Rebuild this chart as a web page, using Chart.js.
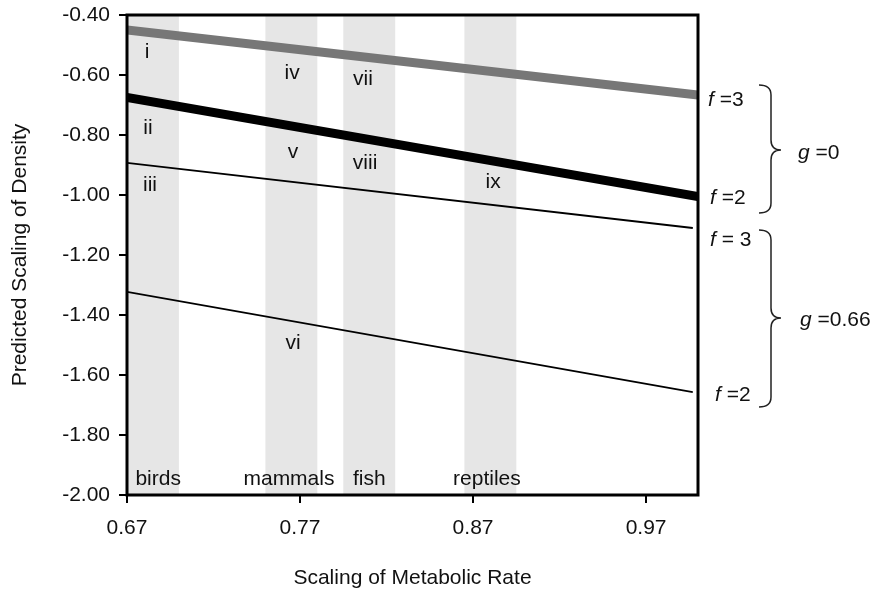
<!DOCTYPE html>
<html>
<head>
<meta charset="utf-8">
<script src="https://cdn.jsdelivr.net/npm/chart.js@4.4.0/dist/chart.umd.min.js"></script>
<style>
body{margin:0;background:#fff}
</style>
</head>
<body>
<canvas id="graph" width="876" height="594"></canvas>
<script>
const xTicks = [0.67, 0.77, 0.87, 0.97];
const yTicks = [-0.4, -0.6, -0.8, -1.0, -1.2, -1.4, -1.6, -1.8, -2.0];

// g = 0 lines
const xG0 = [0.67, 1.0];
const f3g0 = [-0.45, -0.667];
const f2g0 = [-0.675, -1.005];
// g = 0.66 lines
const xG066 = [0.67, 0.997];
const f3g066 = [-0.893, -1.11];
const f2g066 = [-1.323, -1.657];

// taxa bands
const groups = ['birds', 'mammals', 'fish', 'reptiles'];
const groupFrom = [0.67, 0.75, 0.795, 0.865];
const groupTo = [0.70, 0.78, 0.825, 0.895];
const groupLabelX = [0.688, 0.7636, 0.81, 0.878];
const groupLabelY = -1.947;

const numerals = ['i', 'ii', 'iii', 'iv', 'v', 'vi', 'vii', 'viii', 'ix'];
const numeralX = [0.6816, 0.6821, 0.6833, 0.7654, 0.766, 0.766, 0.8064, 0.8076, 0.8816];
const numeralY = [-0.525, -0.777, -0.967, -0.593, -0.857, -1.493, -0.613, -0.893, -0.957];

// right side notes
const fText = [' =3', ' =2', ' = 3', ' =2'];
const fY = [-0.683, -1.01, -1.15, -1.667];
const gText = [' =0', ' =0.66'];
const gY = [-0.86, -1.417];
const braceTop = [-0.633, -1.117];
const braceTip = [-0.85, -1.41];
const braceBot = [-1.06, -1.707];

const FONT = 'Liberation Sans, Arial, sans-serif';

function pts(xs, ys) {
  return xs.map((v, i) => ({x: v, y: ys[i]}));
}

function italicLabel(ctx, x, y, letter, rest) {
  ctx.textAlign = 'left';
  ctx.textBaseline = 'middle';
  ctx.font = 'italic 21px ' + FONT;
  ctx.fillText(letter, x, y);
  const w = ctx.measureText(letter).width;
  ctx.font = '21px ' + FONT;
  ctx.fillText(rest, x + w, y);
}

function brace(ctx, xEnd, xMid, xTip, yTop, yTip, yBot) {
  const r = 10;
  ctx.beginPath();
  ctx.moveTo(xEnd, yTop);
  ctx.quadraticCurveTo(xMid, yTop, xMid, yTop + r);
  ctx.lineTo(xMid, yTip - r);
  ctx.quadraticCurveTo(xMid, yTip, xTip, yTip);
  ctx.quadraticCurveTo(xMid, yTip, xMid, yTip + r);
  ctx.lineTo(xMid, yBot - r);
  ctx.quadraticCurveTo(xMid, yBot, xEnd, yBot);
  ctx.stroke();
}

const decor = {
  id: 'decor',
  beforeDatasetsDraw(chart) {
    const {ctx, chartArea: a, scales: {x}} = chart;
    ctx.save();
    ctx.fillStyle = '#e6e6e6';
    groupFrom.forEach((v, i) => {
      const l = x.getPixelForValue(v), r = x.getPixelForValue(groupTo[i]);
      ctx.fillRect(l, a.top, r - l, a.bottom - a.top);
    });
    ctx.restore();
  },
  afterDatasetsDraw(chart) {
    const {ctx, chartArea: a, scales: {x, y}} = chart;
    ctx.save();
    ctx.fillStyle = '#111';
    ctx.font = '21px ' + FONT;
    ctx.textAlign = 'center';
    ctx.textBaseline = 'middle';
    numerals.forEach((n, i) => {
      ctx.fillText(n, x.getPixelForValue(numeralX[i]), y.getPixelForValue(numeralY[i]));
    });
    groups.forEach((g, i) => {
      ctx.fillText(g, x.getPixelForValue(groupLabelX[i]), y.getPixelForValue(groupLabelY));
    });

    // frame
    ctx.strokeStyle = '#000';
    ctx.lineWidth = 3;
    ctx.strokeRect(a.left, a.top, a.right - a.left, a.bottom - a.top);

    // f / g notes
    const fOff = [10, 12, 12, 17];
    fText.forEach((t, i) => italicLabel(ctx, a.right + fOff[i], y.getPixelForValue(fY[i]), 'f', t));
    const gOff = [100, 102];
    gText.forEach((t, i) => italicLabel(ctx, a.right + gOff[i], y.getPixelForValue(gY[i]), 'g', t));
    ctx.lineWidth = 1.5;
    ctx.strokeStyle = '#222';
    braceTop.forEach((v, i) => {
      brace(ctx, a.right + 61, a.right + 73, a.right + 83,
        y.getPixelForValue(v), y.getPixelForValue(braceTip[i]), y.getPixelForValue(braceBot[i]));
    });
    ctx.restore();
  }
};

const graph = document.getElementById('graph');

new Chart(graph, {
  type: 'line',
  data: {
    datasets: [
      {label: 'f=3 g=0', data: pts(xG0, f3g0), borderColor: '#777', borderWidth: 9},
      {label: 'f=2 g=0', data: pts(xG0, f2g0), borderColor: '#000', borderWidth: 9},
      {label: 'f=3 g=0.66', data: pts(xG066, f3g066), borderColor: '#000', borderWidth: 1.8},
      {label: 'f=2 g=0.66', data: pts(xG066, f2g066), borderColor: '#000', borderWidth: 1.8}
    ]
  },
  options: {
    responsive: false,
    animation: false,
    elements: {
      point: {radius: 0},
      line: {borderCapStyle: 'butt', tension: 0}
    },
    layout: {
      padding: {left: 0, right: 178, top: 15, bottom: 0}
    },
    plugins: {
      legend: {display: false},
      tooltip: {enabled: false}
    },
    scales: {
      x: {
        type: 'linear',
        min: 0.67,
        max: 1.0,
        afterBuildTicks: s => { s.ticks = xTicks.map(v => ({value: v})); },
        afterFit: s => { s.height = 99; s.paddingLeft = 0; s.paddingRight = 0; },
        border: {display: false},
        grid: {drawOnChartArea: false, drawTicks: true, tickLength: 8, color: '#000', lineWidth: 2},
        ticks: {
          color: '#111',
          padding: 13,
          maxRotation: 0,
          font: {family: FONT, size: 21},
          callback: v => v.toFixed(2)
        },
        title: {
          display: true,
          text: 'Scaling of Metabolic Rate',
          color: '#111',
          font: {family: FONT, size: 21},
          padding: {top: 0, bottom: 3}
        }
      },
      y: {
        type: 'linear',
        min: -2.0,
        max: -0.4,
        afterBuildTicks: s => { s.ticks = yTicks.map(v => ({value: v})); },
        afterFit: s => { s.width = 127; s.paddingTop = 0; s.paddingBottom = 0; },
        border: {display: false},
        grid: {drawOnChartArea: false, drawTicks: true, tickLength: 8, color: '#000', lineWidth: 2},
        ticks: {
          color: '#111',
          padding: 9,
          font: {family: FONT, size: 21},
          callback: v => v.toFixed(2)
        },
        title: {
          display: true,
          text: 'Predicted Scaling of Density',
          color: '#111',
          font: {family: FONT, size: 21},
          padding: {top: 8, bottom: 0}
        }
      }
    }
  },
  plugins: [decor]
});
</script>
</body>
</html>
